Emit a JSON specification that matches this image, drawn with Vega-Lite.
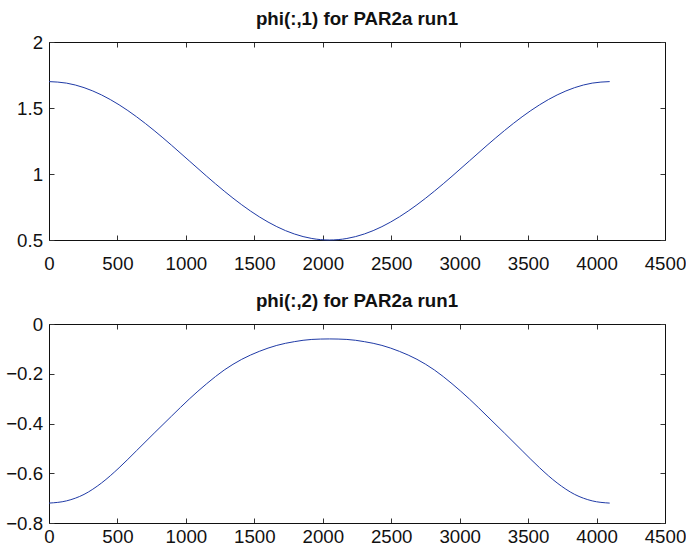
{
  "$schema": "https://vega.github.io/schema/vega-lite/v6.json",
  "padding": {"left": 5, "top": 10, "right": 0, "bottom": 0},
  "bounds": "flush",
  "spacing": 84,
  "config": {
    "font": "Liberation Sans",
    "view": {"stroke": null},
    "title": {"fontSize": 18.7, "fontWeight": "bold", "color": "#111", "baseline": "alphabetic", "offset": 4, "anchor": "middle"},
    "axis": {
      "grid": false,
      "domainColor": "#111",
      "domainWidth": 1,
      "tickColor": "#333",
      "tickSize": -5,
      "tickWidth": 1,
      "labelFont": "Liberation Sans",
      "labelFontSize": 18.7,
      "labelColor": "#111",
      "labelFlush": false,
      "labelOverlap": false,
      "title": null
    },
    "axisLeft": {"labelPadding": 11.4},
    "axisBottom": {"labelPadding": 19.6}
  },
  "data": {"values": [
    {"x": 0, "phi1": 1.7, "phi2": -0.72},
    {"x": 128, "phi1": 1.6885, "phi2": -0.711},
    {"x": 256, "phi1": 1.6543, "phi2": -0.685},
    {"x": 384, "phi1": 1.5989, "phi2": -0.639},
    {"x": 512, "phi1": 1.5243, "phi2": -0.578},
    {"x": 640, "phi1": 1.4333, "phi2": -0.509},
    {"x": 768, "phi1": 1.3296, "phi2": -0.439},
    {"x": 896, "phi1": 1.2171, "phi2": -0.37},
    {"x": 1024, "phi1": 1.1, "phi2": -0.302},
    {"x": 1152, "phi1": 0.9829, "phi2": -0.24},
    {"x": 1280, "phi1": 0.8704, "phi2": -0.185},
    {"x": 1408, "phi1": 0.7667, "phi2": -0.142},
    {"x": 1536, "phi1": 0.6757, "phi2": -0.11},
    {"x": 1664, "phi1": 0.6011, "phi2": -0.086},
    {"x": 1792, "phi1": 0.5457, "phi2": -0.071},
    {"x": 1920, "phi1": 0.5115, "phi2": -0.062},
    {"x": 2048, "phi1": 0.5, "phi2": -0.06},
    {"x": 2176, "phi1": 0.5115, "phi2": -0.062},
    {"x": 2304, "phi1": 0.5457, "phi2": -0.071},
    {"x": 2432, "phi1": 0.6011, "phi2": -0.086},
    {"x": 2560, "phi1": 0.6757, "phi2": -0.11},
    {"x": 2688, "phi1": 0.7667, "phi2": -0.142},
    {"x": 2816, "phi1": 0.8704, "phi2": -0.185},
    {"x": 2944, "phi1": 0.9829, "phi2": -0.24},
    {"x": 3072, "phi1": 1.1, "phi2": -0.302},
    {"x": 3200, "phi1": 1.2171, "phi2": -0.37},
    {"x": 3328, "phi1": 1.3296, "phi2": -0.439},
    {"x": 3456, "phi1": 1.4333, "phi2": -0.509},
    {"x": 3584, "phi1": 1.5243, "phi2": -0.578},
    {"x": 3712, "phi1": 1.5989, "phi2": -0.639},
    {"x": 3840, "phi1": 1.6543, "phi2": -0.685},
    {"x": 3968, "phi1": 1.6885, "phi2": -0.711},
    {"x": 4096, "phi1": 1.7, "phi2": -0.72}
  ]},
  "vconcat": [
    {
      "width": 616,
      "height": 198,
      "title": {"text": "phi(:,1) for PAR2a run1"},
      "layer": [
        {
          "mark": {"type": "line", "color": "#1f3aa6", "strokeWidth": 1, "interpolate": "monotone"},
          "encoding": {
            "x": {"field": "x", "type": "quantitative", "scale": {"domain": [0, 4500], "nice": false}, "axis": {"orient": "bottom", "values": [0, 500, 1000, 1500, 2000, 2500, 3000, 3500, 4000, 4500], "format": "d"}},
            "y": {"field": "phi1", "type": "quantitative", "scale": {"domain": [0.5, 2], "nice": false, "zero": false}, "axis": {"orient": "left", "values": [0.5, 1, 1.5, 2], "format": "~g"}}
          }
        },
        {
          "mark": {"type": "point", "opacity": 0},
          "encoding": {
            "x": {"field": "x", "type": "quantitative", "axis": {"orient": "top", "labels": false, "values": [0, 500, 1000, 1500, 2000, 2500, 3000, 3500, 4000, 4500]}},
            "y": {"field": "phi1", "type": "quantitative", "axis": {"orient": "right", "labels": false, "values": [0.5, 1, 1.5, 2]}}
          }
        }
      ]
    },
    {
      "width": 616,
      "height": 199,
      "title": {"text": "phi(:,2) for PAR2a run1"},
      "layer": [
        {
          "mark": {"type": "line", "color": "#1f3aa6", "strokeWidth": 1, "interpolate": "monotone"},
          "encoding": {
            "x": {"field": "x", "type": "quantitative", "scale": {"domain": [0, 4500], "nice": false}, "axis": {"orient": "bottom", "values": [0, 500, 1000, 1500, 2000, 2500, 3000, 3500, 4000, 4500], "format": "d", "labelPadding": 9.4}},
            "y": {"field": "phi2", "type": "quantitative", "scale": {"domain": [-0.8, 0], "nice": false, "zero": false}, "axis": {"orient": "left", "values": [-0.8, -0.6, -0.4, -0.2, 0], "format": "~g"}}
          }
        },
        {
          "mark": {"type": "point", "opacity": 0},
          "encoding": {
            "x": {"field": "x", "type": "quantitative", "axis": {"orient": "top", "labels": false, "values": [0, 500, 1000, 1500, 2000, 2500, 3000, 3500, 4000, 4500]}},
            "y": {"field": "phi2", "type": "quantitative", "axis": {"orient": "right", "labels": false, "values": [-0.8, -0.6, -0.4, -0.2, 0]}}
          }
        }
      ]
    }
  ]
}
